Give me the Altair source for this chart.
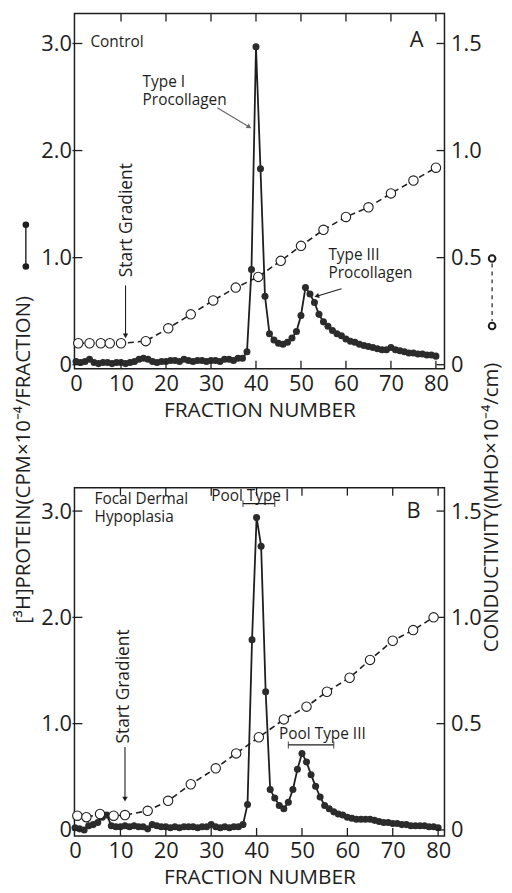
import math
import altair as alt
import pandas as pd

FONT = "Open Sans"
INK = "#1e1e1e"

fractions = list(range(81))

a_protein = [0.03, 0.02, 0.03, 0.05, 0.02, 0.01, 0.02, 0.02, 0.01, 0.02,
             0.02, 0.01, 0.02, 0.03, 0.05, 0.06, 0.05, 0.03, 0.02, 0.03,
             0.03, 0.04, 0.04, 0.03, 0.05, 0.04, 0.03, 0.04, 0.04, 0.03,
             0.04, 0.04, 0.03, 0.05, 0.05, 0.04, 0.06, 0.06, 0.12, 0.89,
             2.97, 1.83, 0.64, 0.29, 0.23, 0.20, 0.19, 0.21, 0.25, 0.31,
             0.46, 0.72, 0.66, 0.58, 0.47, 0.40, 0.36, 0.32, 0.29, 0.27,
             0.24, 0.22, 0.21, 0.19, 0.18, 0.17, 0.16, 0.15, 0.14, 0.14,
             0.16, 0.14, 0.13, 0.12, 0.11, 0.11, 0.10, 0.10, 0.09, 0.09,
             0.08]

b_protein = [0.02, 0.01, 0.00, 0.04, 0.05, 0.07, 0.12, 0.14, 0.04, 0.03,
             0.03, 0.04, 0.03, 0.04, 0.03, 0.03, 0.01, 0.05, 0.04, 0.03,
             0.03, 0.02, 0.03, 0.02, 0.03, 0.03, 0.03, 0.02, 0.03, 0.03,
             0.05, 0.03, 0.02, 0.03, 0.02, 0.03, 0.03, 0.05, 0.24, 1.79,
             2.94, 2.67, 1.30, 0.38, 0.30, 0.23, 0.20, 0.26, 0.38, 0.57,
             0.72, 0.64, 0.52, 0.41, 0.31, 0.23, 0.20, 0.17, 0.15, 0.14,
             0.12, 0.11, 0.10, 0.10, 0.10, 0.10, 0.09, 0.08, 0.07, 0.07,
             0.06, 0.06, 0.05, 0.05, 0.04, 0.04, 0.04, 0.04, 0.03, 0.03,
             0.02]

a_cond_fraction = [0.5, 3, 5.5, 7.5, 10, 15.5, 20.5, 25.5, 30.5, 35.5,
                   40.5, 45.5, 50, 55, 60, 65, 70, 75, 80]
a_conductivity = [0.10, 0.10, 0.10, 0.10, 0.10, 0.11, 0.17, 0.235, 0.30, 0.36,
                  0.41, 0.485, 0.555, 0.63, 0.69, 0.735, 0.80, 0.86, 0.92]

b_cond_fraction = [0.5, 2.5, 5.5, 8.5, 11, 16, 20.5, 25.5, 31, 35.5,
                   40.5, 46, 51, 55.5, 60.5, 65, 70, 74.5, 79]
b_conductivity = [0.067, 0.06, 0.075, 0.067, 0.07, 0.09, 0.137, 0.215, 0.29, 0.36,
                  0.436, 0.52, 0.58, 0.65, 0.716, 0.80, 0.89, 0.94, 1.0]

x_ticks = [0, 10, 20, 30, 40, 50, 60, 70, 80]
protein_ticks = [0, 1, 2, 3]
cond_ticks = [0, 0.5, 1.0, 1.5]

# annotation content (first line anchored at the given point)
a_labels = ["Control", "Type I\nProcollagen", "Type III\nProcollagen"]
a_label_f = [3.2, 14.8, 56.1]
a_label_p = [3.01, 2.64, 1.02]
b_labels = ["Focal Dermal\nHypoplasia"]
b_label_f = [4.3]
b_label_p = [3.11]
b_pool_labels = ["Pool Type I", "Pool Type III"]
b_pool_f = [38.6, 54.5]
b_pool_p = [3.14, 0.90]
b_pool_from = [37, 47]
b_pool_to = [44, 57]
b_pool_level = [3.07, 0.80]

W = 373
HA = 358
HB = 351
XDOM_A = [-0.35, 81.9]
YDOM_A = [-0.037, 3.28]
XDOM_B = [-0.13, 81.4]
YDOM_B = [-0.056, 3.22]

LBL = "datum.value == 0 ? '0' : format(datum.value, '.1f')"


def head_angle(f1, p1, f2, p2, xdom, ydom, H):
    sx = W / (xdom[1] - xdom[0])
    sy = H / (ydom[1] - ydom[0])
    dx = (f2 - f1) * sx
    dy = -(p2 - p1) * sy
    return math.degrees(math.atan2(dx, -dy)) % 360


def panel(prot, cfr, cvals, xdom, ydom, H, letter, texts, arrows, extra):
    xs = alt.Scale(domain=xdom, nice=False, zero=False)
    ys = alt.Scale(domain=ydom, nice=False, zero=False)
    cs = alt.Scale(domain=[ydom[0] / 2, ydom[1] / 2], nice=False, zero=False)
    X = alt.X("f:Q", scale=xs, axis=alt.Axis(values=x_ticks, title="FRACTION NUMBER",
                                               labelPadding=5, titlePadding=5,
                                               labelFlush=False, labelOverlap=False))
    Y = alt.Y("p:Q", scale=ys, axis=alt.Axis(values=protein_ticks, labelExpr=LBL, title=None,
                                               orient="left", labelPadding=3,
                                               labelFlush=False, labelOverlap=False))
    YC = alt.Y("c:Q", scale=cs, axis=alt.Axis(values=cond_ticks, labelExpr=LBL, title=None,
                                                orient="right", labelPadding=6,
                                                labelFlush=False, labelOverlap=False))
    dp = pd.DataFrame({"f": fractions, "p": prot})
    dc = pd.DataFrame({"f": cfr, "c": cvals})

    layers = []
    layers.append(alt.Chart(dp).mark_line(color=INK, strokeWidth=1.8).encode(x=X, y=Y))
    layers.append(alt.Chart(dp).mark_point(filled=True, size=50, color="#2b2b2b", opacity=1).encode(x=X, y=Y))

    # texts
    dt = pd.DataFrame(texts)
    layers.append(alt.Chart(dt).mark_text(font=FONT, fontSize=15.5, align="left", baseline="middle",
                                          lineBreak="\n", lineHeight=18,
                                          color=INK).encode(x=X, y=Y, text="t:N"))
    # letter
    dl = pd.DataFrame({"f": [letter[1]], "p": [letter[2]], "t": [letter[0]]})
    layers.append(alt.Chart(dl).mark_text(font=FONT, fontSize=22, align="center", baseline="middle",
                                          color=INK).encode(x=X, y=Y, text="t:N"))
    # arrows
    da = pd.DataFrame(arrows)
    da["ang"] = [head_angle(r.f, r.p, r.f2, r.p2, xdom, ydom, H) for r in da.itertuples()]
    dh = pd.DataFrame({"f": da["f2"], "p": da["p2"], "ang": da["ang"], "col": da["col"]})
    layers.append(alt.Chart(da).mark_rule(strokeWidth=1.1).encode(
        x=X, y=Y, x2="f2:Q", y2="p2:Q", color=alt.Color("col:N", scale=None)))
    layers.append(alt.Chart(dh).mark_point(shape="triangle-up", filled=True, size=30, opacity=1).encode(
        x=X, y=Y, angle=alt.Angle("ang:Q", scale=None), color=alt.Color("col:N", scale=None)))

    # inward frame ticks
    dxt = pd.DataFrame({"f": x_ticks[1:]})
    dyt = pd.DataFrame({"p": protein_ticks})
    layers.append(alt.Chart(dxt).mark_rule(color=INK, strokeWidth=1.3).encode(
        x=X, y=alt.value(0), y2=alt.value(8)))
    layers.append(alt.Chart(dxt).mark_rule(color=INK, strokeWidth=1.3).encode(
        x=X, y=alt.value(H - 8), y2=alt.value(H)))
    layers.append(alt.Chart(dyt).mark_rule(color=INK, strokeWidth=1.3).encode(
        y=Y, x=alt.value(-2), x2=alt.value(8)))
    layers.append(alt.Chart(dyt).mark_rule(color=INK, strokeWidth=1.3).encode(
        y=Y, x=alt.value(W - 8), x2=alt.value(W)))

    for make in extra:
        layers.append(make(X, Y))

    prot_layer = alt.layer(*layers)
    cond_layer = alt.layer(
        alt.Chart(dc).mark_line(color=INK, strokeWidth=1.6, strokeDash=[6, 4]).encode(x=X, y=YC),
        alt.Chart(dc).mark_point(filled=True, fill="white", stroke=INK, strokeWidth=1.1, size=90,
                                 opacity=1).encode(x=X, y=YC),
    )
    return alt.layer(prot_layer, cond_layer).resolve_scale(y="independent").properties(width=W, height=H)


def start_text(f, p):
    def make(X, Y):
        d = pd.DataFrame({"f": [f], "p": [p], "t": ["Start Gradient"]})
        return alt.Chart(d).mark_text(font=FONT, fontSize=17.5, angle=270, align="center",
                                      baseline="middle", color=INK).encode(x=X, y=Y, text="t:N")
    return make


def side_titles():
    one = pd.DataFrame({"k": [0]})
    rx = 421

    def make(X, Y):
        return alt.layer(
            alt.Chart(one).mark_text(font=FONT, fontSize=20.5, angle=270, align="center",
                                     baseline="middle", color=INK,
                                     text="[³H]PROTEIN(CPM×10⁻⁴/FRACTION)").encode(
                x=alt.value(-51), y=alt.value(450)),
            alt.Chart(one).mark_text(font=FONT, fontSize=20.5, angle=270, align="center",
                                     baseline="middle", color=INK,
                                     text="CONDUCTIVITY(MHO×10⁻⁴/cm)").encode(
                x=alt.value(rx), y=alt.value(498)),
            alt.Chart(one).mark_rule(color=INK, strokeWidth=1.4).encode(
                x=alt.value(-49), y=alt.value(213), y2=alt.value(255)),
            alt.Chart(one).mark_point(filled=True, size=45, color=INK, opacity=1).encode(
                x=alt.value(-49), y=alt.value(213)),
            alt.Chart(one).mark_point(filled=True, size=45, color=INK, opacity=1).encode(
                x=alt.value(-49), y=alt.value(255)),
            alt.Chart(one).mark_rule(color=INK, strokeWidth=1.2, strokeDash=[4, 4]).encode(
                x=alt.value(rx), y=alt.value(252), y2=alt.value(310)),
            alt.Chart(one).mark_point(filled=True, fill="white", stroke=INK, size=45, opacity=1).encode(
                x=alt.value(rx), y=alt.value(247)),
            alt.Chart(one).mark_point(filled=True, fill="white", stroke=INK, size=45, opacity=1).encode(
                x=alt.value(rx), y=alt.value(315)),
        )
    return make


def brackets():
    def make(X, Y):
        d = pd.DataFrame({"f": b_pool_from, "f2": b_pool_to, "p": b_pool_level})
        ends = pd.DataFrame({"f": b_pool_from + b_pool_to, "p": b_pool_level + b_pool_level})
        dtx = pd.DataFrame({"f": b_pool_f, "p": b_pool_p, "t": b_pool_labels})
        return alt.layer(
            alt.Chart(d).mark_rule(color=INK, strokeWidth=1.2).encode(x=X, x2="f2:Q", y=Y),
            alt.Chart(ends).mark_tick(color=INK, thickness=1.2, size=7, orient="vertical").encode(x=X, y=Y),
            alt.Chart(dtx).mark_text(font=FONT, fontSize=15.5, align="center", baseline="middle",
                                     color=INK).encode(x=X, y=Y, text="t:N"),
        )
    return make


texts_a = {"f": a_label_f, "p": a_label_p, "t": a_labels}
arrows_a = {"f": [11, 31.4, 59.0], "p": [0.74, 2.40, 0.71],
            "f2": [11, 38.5, 53.5], "p2": [0.27, 2.22, 0.64],
            "col": [INK, "#666666", INK]}
texts_b = {"f": b_label_f, "p": b_label_p, "t": b_labels}
arrows_b = {"f": [11], "p": [0.78], "f2": [11], "p2": [0.29], "col": [INK]}

chart_a = panel(a_protein, a_cond_fraction, a_conductivity, XDOM_A, YDOM_A, HA,
                ("A", 75.7, 3.03), texts_a, arrows_a, [start_text(11.3, 1.35), side_titles()])
chart_b = panel(b_protein, b_cond_fraction, b_conductivity, XDOM_B, YDOM_B, HB,
                ("B", 74.6, 3.0), texts_b, arrows_b, [start_text(10.9, 1.35), brackets()])

chart = alt.vconcat(chart_a, chart_b, spacing=120, bounds="flush").properties(
    padding={"left": 5, "top": 0, "right": 0, "bottom": 0}
).configure_view(stroke=INK, strokeWidth=1.5).configure_axis(
    labelFont=FONT, titleFont=FONT, labelFontSize=22, titleFontSize=21,
    titleFontWeight="normal", domain=False, ticks=False, tickSize=0, grid=False,
    labelColor=INK, titleColor=INK
)

chart.save("out.html", embed_options={"renderer": "svg", "actions": False})
